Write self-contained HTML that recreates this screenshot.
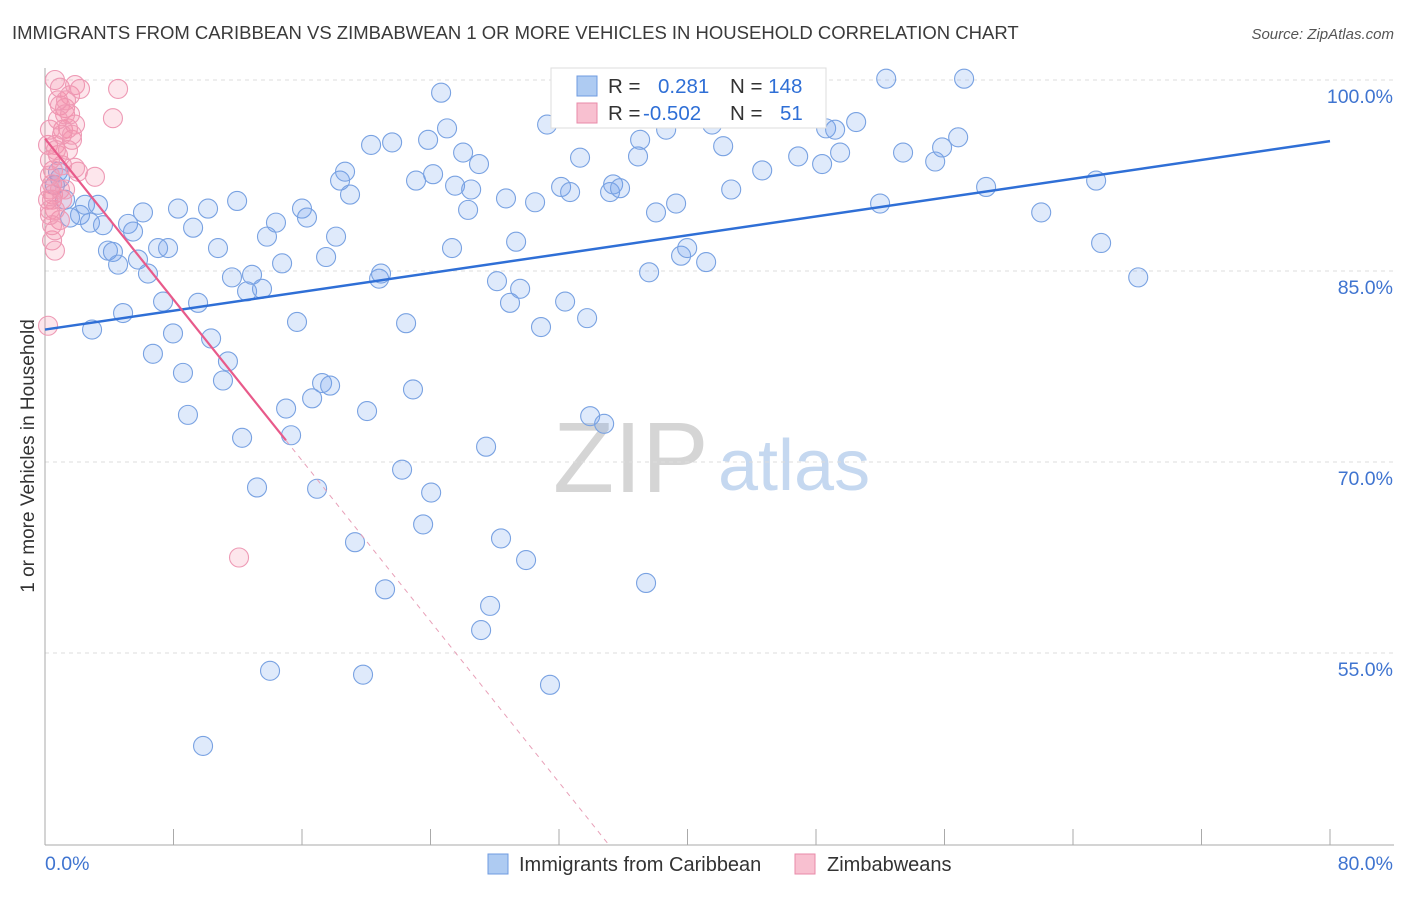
<!DOCTYPE html>
<html><head><meta charset="utf-8"><style>
body{margin:0;background:#fff;font-family:"Liberation Sans",sans-serif;}
svg text{font-family:"Liberation Sans",sans-serif;}
</style></head><body>
<svg id="chart" width="1406" height="892">
<text x="12" y="39" font-size="18.5" fill="#3a3a3a">IMMIGRANTS FROM CARIBBEAN VS ZIMBABWEAN 1 OR MORE VEHICLES IN HOUSEHOLD CORRELATION CHART</text>
<text x="1394" y="39" font-size="15" fill="#555" font-style="italic" text-anchor="end">Source: ZipAtlas.com</text>
<g><text x="553" y="492" font-size="100" fill="#d5d5d5" font-family="Liberation Serif">ZIP</text><text x="718" y="490" font-size="72" fill="#c5d8f0">atlas</text></g>
<g id="grid"></g><g id="axes"></g><g id="pts"></g><g id="lines"></g>
<text transform="translate(34,456) rotate(-90)" font-size="19" fill="#333" text-anchor="middle">1 or more Vehicles in Household</text>
<g>
<rect x="551" y="68" width="275" height="60" fill="#fff" stroke="#ddd"/>
<rect x="577" y="76" width="20" height="20" fill="#aecbf2" stroke="#6f9be0"/>
<rect x="577" y="103" width="20" height="20" fill="#f8c0d0" stroke="#e88aa8"/>
<text x="608" y="93" font-size="20.5" fill="#333">R = <tspan fill="#2f6fd6" x="658">0.281</tspan><tspan x="730" fill="#333">N = </tspan><tspan fill="#2f6fd6">148</tspan></text>
<text x="608" y="120" font-size="20.5" fill="#333">R = <tspan fill="#2f6fd6" x="643">-0.502</tspan><tspan x="730" fill="#333">N = </tspan><tspan fill="#2f6fd6" x="780">51</tspan></text>
</g>
<g>
<rect x="488" y="854" width="20" height="20" fill="#aecbf2" stroke="#6f9be0"/>
<text x="519" y="871" font-size="20" fill="#333">Immigrants from Caribbean</text>
<rect x="795" y="854" width="20" height="20" fill="#f8c0d0" stroke="#e88aa8"/>
<text x="827" y="871" font-size="20" fill="#333">Zimbabweans</text>
</g>
</svg>
<script>
const blueX=[.62,.81,.93,1.25,1.56,2.18,2.49,2.80,3.30,3.61,2.93,3.92,4.23,4.55,4.86,5.17,5.48,5.79,6.10,6.41,6.72,7.04,7.35,7.66,7.97,8.28,8.59,8.90,9.22,9.53,9.84,10.15,10.34,10.77,11.08,11.39,11.64,11.96,12.27,12.58,12.89,13.20,13.51,13.82,14.01,14.38,14.76,15.01,15.32,15.69,16.00,16.31,16.63,16.94,17.25,17.50,17.75,18.12,18.37,18.68,18.99,19.30,19.80,20.05,20.30,20.80,20.92,21.17,21.61,22.23,22.48,22.91,23.10,23.54,23.85,24.04,24.16,24.66,25.03,25.34,25.53,26.03,26.34,26.53,27.02,27.15,27.46,27.71,28.14,28.39,28.70,28.95,29.33,29.58,29.95,30.51,30.88,31.26,31.44,32.13,32.38,32.69,33.31,33.75,33.94,34.81,35.18,35.37,35.80,36.92,37.05,37.42,37.61,38.04,38.67,39.29,39.60,39.98,41.16,41.53,42.22,42.72,43.59,44.65,45.08,46.89,48.38,48.63,49.19,49.50,50.50,51.99,52.37,53.42,55.42,55.85,56.85,57.22,58.59,62.02,65.44,65.75,68.06,40.8,46.4];
const blueY=[91.75,92.8,92.3,90.6,89.2,89.4,90.2,88.8,90.2,88.6,80.4,86.6,86.5,85.5,81.7,88.7,88.1,85.9,89.6,84.8,78.5,86.8,82.6,86.8,80.1,89.9,77.0,73.7,88.4,82.5,47.7,89.9,79.7,86.8,76.4,77.9,84.5,90.5,71.9,83.4,84.7,68.0,83.6,87.7,53.6,88.8,85.6,74.2,72.1,81.0,89.9,89.2,75.0,67.9,76.2,86.1,76.0,87.7,92.1,92.8,91.0,63.7,53.3,74.0,94.9,84.4,84.8,60.0,95.1,69.4,80.9,75.7,92.1,65.1,95.3,67.6,92.6,99.0,96.2,86.8,91.7,94.3,89.8,91.4,93.4,56.8,71.2,58.7,84.2,64.0,90.7,82.5,87.3,83.6,62.3,90.4,80.6,96.5,52.5,91.6,82.6,91.2,93.9,81.3,73.6,73.0,91.2,91.8,91.5,94.0,95.3,60.5,84.9,89.6,96.1,90.3,86.2,86.8,85.7,96.5,94.8,91.4,98.3,92.9,100,94.0,93.4,96.2,96.1,94.3,96.7,90.3,100.1,94.3,93.6,94.7,95.5,100.1,91.6,89.6,92.1,87.2,84.5,98.8,97.6];
const pinkX=[.62,.81,.93,1.25,1.56,1.87,2.18,4.55,4.23,1.12,1.43,1.68,1.87,.81,.50,.44,.31,.44,.62,.93,.44,.62,.19,3.11,2.05,1.87,1.06,.31,.19,.31,.62,.93,1.25,1.31,1.56,.31,.50,12.08,.19,.31,.68,1.06,.81,1.43,1.68,.44,.93,.62,.31,1.06,1.25];
const pinkY=[100,98.4,99.4,97.8,98.8,99.6,99.3,99.3,97.0,96.1,96.2,95.3,96.5,94.1,92.9,91.8,91.4,90.6,89.8,89.0,87.4,86.6,80.7,92.4,92.8,93.1,93.3,92.5,94.9,96.1,94.9,98.0,97.3,98.4,97.3,93.7,91.0,62.5,90.6,89.8,94.5,95.7,96.9,94.5,95.7,88.6,91.4,88.2,89.4,90.6,91.4];
const blueTrend=[80.4,0.185]; // intercept, slope
const pinkTrend=[95.4,-1.58];
const yTicks=[100,85,70,55];
const yTickLabels=["100.0%","85.0%","70.0%","55.0%"];
const xTicks=[0,8,16,24,32,40,48,56,64,72,80];

const NS="http://www.w3.org/2000/svg";
const sx=v=>45+v*(1285/80);
const sy=v=>80+(100-v)*(191/15);
function mk(tag,attrs,parent){const e=document.createElementNS(NS,tag);for(const k in attrs)e.setAttribute(k,attrs[k]);document.getElementById(parent).appendChild(e);return e;}
yTicks.forEach((t,i)=>{
 const l=mk('line',{x1:45,x2:1394,y1:sy(t),y2:sy(t),stroke:'#ddd','stroke-dasharray':'4,4'},'grid');
 
 
 const tx=mk('text',{x:1393,y:sy(t)+23,'font-size':19.5,fill:'#3f74d0','text-anchor':'end'},'grid');
 tx.textContent=yTickLabels[i];
 
 
});
const ax=mk('line',{x1:45,x2:45,y1:68,y2:845,stroke:'#aaa'},'axes');


const bx=mk('line',{x1:45,x2:1394,y1:845,y2:845,stroke:'#aaa'},'axes');


xTicks.forEach(t=>{
 const l=mk('line',{x1:sx(t),x2:sx(t),y1:829,y2:845,stroke:'#aaa'},'axes');
 
 
});
[[0,"0.0%","start",45],[80,"80.0%","end",1393]].forEach(a=>{
 const t=mk('text',{x:a[3],y:870,'font-size':19.5,fill:'#3f74d0','text-anchor':a[2]},'axes');
 t.textContent=a[1];
 
 
});
blueX.forEach((x,i)=>{
 const c=mk('circle',{cx:sx(x),cy:sy(blueY[i]),r:9.5,fill:'rgba(110,160,235,0.22)',stroke:'#79a2e2','stroke-width':1.1},'pts');
 
 
});
pinkX.forEach((x,i)=>{
 const c=mk('circle',{cx:sx(x),cy:sy(pinkY[i]),r:9.5,fill:'rgba(245,140,170,0.22)',stroke:'#ee9ab5','stroke-width':1.1},'pts');
 
 
});
const bl=mk('line',{x1:sx(0),y1:sy(blueTrend[0]),x2:sx(80),y2:sy(blueTrend[0]+80*blueTrend[1]),stroke:'#2f6fd6','stroke-width':2.5},'lines');


const pe=15.0, pend=(40-pinkTrend[0])/pinkTrend[1];
const pl=mk('line',{x1:sx(0),y1:sy(pinkTrend[0]),x2:sx(pe),y2:sy(pinkTrend[0]+pe*pinkTrend[1]),stroke:'#e85a8a','stroke-width':2.2},'lines');


const pd=mk('line',{x1:sx(pe),y1:sy(pinkTrend[0]+pe*pinkTrend[1]),x2:sx(pend),y2:sy(40),stroke:'#e8a0b8','stroke-width':1,'stroke-dasharray':'5,5'},'lines');


</script>
</body></html>
